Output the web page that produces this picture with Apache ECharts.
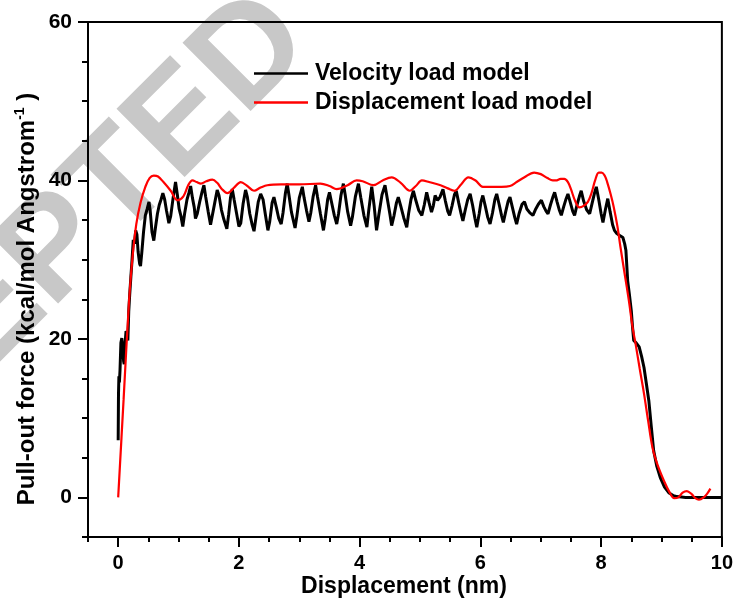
<!DOCTYPE html>
<html>
<head>
<meta charset="utf-8">
<script src="https://cdn.jsdelivr.net/npm/echarts@6/dist/echarts.min.js"></script>
<style>html,body{margin:0;padding:0;background:#fff}#c{width:736px;height:603px}</style>
</head>
<body>
<div id="c"></div>
<script>
// ---- data ----
const seriesNames = ['Velocity load model', 'Displacement load model'];
const xTickLabels = [0, 2, 4, 6, 8, 10];
const yTickLabels = [0, 20, 40, 60];
const xMinorTicks = [-0.5,0,0.5,1,1.5,2,2.5,3,3.5,4,4.5,5,5.5,6,6.5,7,7.5,8,8.5,9,9.5,10];
const yMinorTicks = [-5,0,5,10,15,20,25,30,35,40,45,50,55,60];

const velocityLoad = [
[0,7.2],[0.005,13],[0.012,15.3],[0.02,14.5],[0.03,16],[0.045,19.5],[0.06,20.1],[0.075,19],[0.09,17.2],[0.1,16.8],
[0.115,19.5],[0.13,21],[0.145,20.6],[0.16,19.8],[0.175,23.5],[0.19,25.5],[0.21,27.8],[0.23,30],[0.25,32.5],[0.27,32],
[0.29,33.7],[0.31,33.2],[0.33,31],[0.355,29.5],[0.37,29.2],[0.39,30.8],[0.42,33.5],[0.45,35.6],[0.48,36.4],[0.51,37.3],
[0.53,36.2],[0.56,33.5],[0.59,32.4],[0.62,34.2],[0.65,35.8],[0.68,36.9],[0.71,37.6],[0.74,38.4],[0.77,37.6],[0.8,36.2],
[0.84,34.6],[0.87,35.5],[0.91,37.8],[0.95,39.8],[0.98,38.2],[1.01,36.4],[1.04,35.5],[1.07,34.2],[1.1,35.8],[1.14,37.6],
[1.17,38.4],[1.2,39.3],[1.23,37.8],[1.26,36.6],[1.28,35.2],[1.31,35.8],[1.35,37.3],[1.39,38.6],[1.42,39.4],[1.45,37.9],
[1.49,36.1],[1.53,34.4],[1.56,34.6],[1.6,37.2],[1.64,38.8],[1.67,38.1],[1.71,36.3],[1.75,35.1],[1.8,33.9],[1.83,35.7],
[1.86,37.8],[1.89,38.9],[1.92,37.6],[1.96,35.9],[2.0,34.2],[2.03,34.6],[2.07,37.1],[2.11,38.8],[2.14,37.9],[2.18,35.8],
[2.22,34.4],[2.25,33.6],[2.28,35.2],[2.32,37.3],[2.36,38.3],[2.4,37.6],[2.44,35.6],[2.48,33.7],[2.51,34.8],[2.55,37.2],
[2.58,37.9],[2.62,36.6],[2.66,35.2],[2.7,34.5],[2.73,35.9],[2.77,38.4],[2.8,39.6],[2.83,38.1],[2.87,36.0],[2.93,34.0],
[2.96,35.5],[3.0,37.8],[3.05,39.2],[3.08,37.8],[3.12,36.2],[3.16,34.8],[3.19,35.9],[3.23,38.0],[3.27,39.4],[3.3,38.0],
[3.35,35.8],[3.4,33.7],[3.43,35.2],[3.47,37.6],[3.5,38.5],[3.53,37.4],[3.58,35.6],[3.62,34.5],[3.65,35.8],[3.69,38.1],
[3.73,39.6],[3.76,38.2],[3.8,36.1],[3.85,34.3],[3.88,35.4],[3.93,38.0],[3.98,39.6],[4.02,37.8],[4.07,35.6],[4.12,34.1],
[4.15,36.2],[4.2,39.2],[4.24,36.8],[4.28,33.7],[4.32,35.8],[4.37,38.2],[4.42,39.4],[4.46,37.6],[4.5,35.8],[4.53,34.3],
[4.57,35.6],[4.61,37.2],[4.64,37.9],[4.68,36.8],[4.73,35.3],[4.78,34.1],[4.81,35.8],[4.85,37.6],[4.89,38.7],[4.93,37.5],
[4.98,36.2],[5.03,35.6],[5.07,36.9],[5.11,38.5],[5.15,37.2],[5.19,36.0],[5.22,36.8],[5.25,38.1],[5.29,37.5],[5.33,37.9],
[5.38,38.9],[5.42,37.4],[5.46,36.1],[5.49,35.6],[5.53,36.8],[5.57,38.2],[5.6,38.7],[5.64,37.2],[5.68,35.8],[5.71,34.9],
[5.75,36.3],[5.79,37.6],[5.83,38.3],[5.87,36.9],[5.91,35.2],[5.94,34.1],[5.98,35.8],[6.01,37.3],[6.04,38.1],[6.08,36.8],
[6.12,35.4],[6.16,34.5],[6.2,35.9],[6.24,37.6],[6.27,38.3],[6.31,37.0],[6.35,35.6],[6.38,34.7],[6.42,36.1],[6.46,37.4],
[6.49,37.9],[6.53,36.6],[6.57,35.3],[6.6,34.5],[6.64,35.8],[6.69,37.0],[6.73,37.3],[6.77,36.4],[6.82,35.9],[6.87,35.6],
[6.91,36.3],[6.96,37.0],[7.01,37.5],[7.05,36.7],[7.09,36.1],[7.12,35.8],[7.16,36.9],[7.2,37.9],[7.23,38.5],[7.27,37.3],
[7.31,36.2],[7.34,35.6],[7.38,36.7],[7.42,37.7],[7.45,38.3],[7.49,37.2],[7.53,36.1],[7.56,35.6],[7.6,36.9],[7.64,38.0],
[7.67,38.7],[7.71,37.4],[7.76,36.3],[7.81,35.8],[7.85,37.1],[7.89,38.4],[7.92,39.2],[7.96,37.6],[8.0,35.8],[8.03,34.7],
[8.07,36.3],[8.11,37.7],[8.15,36.0],[8.19,34.4],[8.22,33.7],[8.26,33.3],[8.3,33.1],[8.36,32.8],[8.39,32.0],[8.41,31.2],
[8.44,27.3],[8.47,25.5],[8.5,23.5],[8.52,21.5],[8.54,19.8],[8.58,19.5],[8.63,19.0],[8.67,17.8],[8.71,16.4],[8.75,14.3],
[8.79,12.2],[8.83,9.0],[8.87,5.9],[8.92,4.0],[8.98,2.5],[9.05,1.3],[9.12,0.6],[9.2,0.2],[9.26,0.1],[9.4,0],
[9.6,0],[9.8,0],[10,0]
];

const displacementLoad = [
[0,0],[0.09,12.4],[0.18,24.8],[0.24,30.5],[0.3,34.5],[0.37,37.2],[0.45,39.2],[0.52,40.3],[0.59,40.6],[0.66,40.5],
[0.75,39.8],[0.87,38.7],[0.98,37.5],[1.08,38.0],[1.16,39.4],[1.23,40.0],[1.3,39.8],[1.37,39.6],[1.46,39.9],[1.56,40.1],
[1.64,39.7],[1.72,38.9],[1.81,38.4],[1.92,39.1],[2.03,39.8],[2.14,39.3],[2.25,38.7],[2.36,39.1],[2.47,39.4],[2.7,39.5],
[3.0,39.5],[3.35,39.6],[3.5,39.3],[3.62,38.9],[3.8,39.4],[3.95,40.0],[4.05,39.9],[4.23,39.4],[4.38,40.0],[4.53,40.4],
[4.68,39.7],[4.83,38.7],[4.93,39.3],[5.03,40.0],[5.15,39.8],[5.34,39.4],[5.46,39.0],[5.57,38.7],[5.68,39.5],[5.8,40.4],
[5.92,40.0],[6.04,39.2],[6.2,39.2],[6.35,39.2],[6.49,39.3],[6.6,39.8],[6.73,40.4],[6.89,41.0],[7.0,40.8],[7.11,40.3],
[7.2,40.0],[7.25,40.0],[7.33,40.2],[7.39,40.2],[7.45,39.8],[7.5,38.9],[7.57,37.4],[7.64,36.6],[7.71,36.8],[7.78,37.3],
[7.84,38.4],[7.9,40.0],[7.96,41.0],[8.01,41.0],[8.06,40.6],[8.1,39.8],[8.16,38.2],[8.21,36.6],[8.27,34.2],[8.32,31.6],
[8.39,28.2],[8.46,24.8],[8.52,21.5],[8.57,19.4],[8.64,16.2],[8.71,13.1],[8.78,9.6],[8.85,6.3],[8.93,4.2],[9.04,2.1],
[9.13,0.7],[9.21,-0.1],[9.28,0.0],[9.35,0.6],[9.42,0.8],[9.5,0.4],[9.56,-0.1],[9.62,-0.3],[9.7,0.0],[9.76,0.5],[9.81,1.1]
];

// ---- chart ----
const chart = echarts.init(document.getElementById('c'), null, {renderer: 'canvas'});
const FONT = '"Liberation Sans", Arial, sans-serif';
const axisLineStyle = {color: '#000', width: 2};
const lineIcon = 'path://M0,0H54V2.5H0Z';

chart.setOption({
  animation: false,
  backgroundColor: '#fff',
  grid: {left: 88, right: 13, top: 22, bottom: 66, show: true, borderColor: '#000', borderWidth: 2, backgroundColor: 'transparent'},
  legend: {
    orient: 'vertical', left: 254, top: 62, padding: 0, itemWidth: 54, itemHeight: 24, itemGap: 6,
    symbolKeepAspect: true,
    data: [{name: seriesNames[0], icon: lineIcon}, {name: seriesNames[1], icon: lineIcon}],
    textStyle: {fontFamily: FONT, fontWeight: 'bold', fontSize: 23, color: '#000', padding: [0, 0, 0, 2]}
  },
  xAxis: [
    {type: 'value', min: -0.5, max: 10, gridIndex: 0,
     axisLine: {show: true, onZero: false, lineStyle: axisLineStyle},
     axisTick: {show: true, customValues: xMinorTicks, length: 5, lineStyle: axisLineStyle},
     axisLabel: {customValues: xTickLabels, fontFamily: FONT, fontWeight: 'bold', fontSize: 20, color: '#000', margin: 16},
     splitLine: {show: false}},
    {type: 'value', min: -0.5, max: 10, gridIndex: 0, position: 'bottom',
     axisLine: {show: false, onZero: false},
     axisTick: {show: true, customValues: xTickLabels, length: 10, lineStyle: axisLineStyle},
     axisLabel: {show: false}, splitLine: {show: false}}
  ],
  yAxis: [
    {type: 'value', min: -5, max: 60, gridIndex: 0,
     axisLine: {show: true, onZero: false, lineStyle: axisLineStyle},
     axisTick: {show: true, customValues: yMinorTicks, length: 6, lineStyle: axisLineStyle},
     axisLabel: {customValues: yTickLabels, fontFamily: FONT, fontWeight: 'bold', fontSize: 21, color: '#000', margin: 16},
     splitLine: {show: false}},
    {type: 'value', min: -5, max: 60, gridIndex: 0, position: 'left',
     axisLine: {show: false, onZero: false},
     axisTick: {show: true, customValues: yTickLabels, length: 10, lineStyle: axisLineStyle},
     axisLabel: {show: false}, splitLine: {show: false}}
  ],
  series: [
    {name: seriesNames[0], type: 'line', data: velocityLoad, xAxisIndex: 0, yAxisIndex: 0,
     symbol: 'none', lineStyle: {color: '#000', width: 3}, itemStyle: {color: '#000'}, z: 3},
    {name: seriesNames[1], type: 'line', data: displacementLoad, xAxisIndex: 0, yAxisIndex: 0,
     symbol: 'none', smooth: 0.35, lineStyle: {color: '#ff0000', width: 2.2}, itemStyle: {color: '#ff0000'}, z: 4}
  ],
  graphic: [
    {type: 'text', z: -10, x: 16, y: 291, rotation: Math.PI / 4, silent: true,
     style: {text: 'ACCEPTED', fill: '#c8c8c8', font: 'bold 140px "Liberation Sans", Arial, sans-serif', textAlign: 'center', textVerticalAlign: 'middle'}},
    {type: 'text', x: 404, y: 587,
     style: {text: 'Displacement (nm)', fill: '#000', font: 'bold 23px ' + FONT, textAlign: 'center', textVerticalAlign: 'middle'}},
    {type: 'text', x: 27, y: 299, rotation: Math.PI / 2,
     style: {text: '{a|Pull-out force (kcal/mol Angstrom}{s|-1}{a| )}', fill: '#000', textAlign: 'center', textVerticalAlign: 'middle',
       rich: {a: {fontFamily: FONT, fontWeight: 'bold', fontSize: 24, fill: '#000', lineHeight: 28},
              s: {fontFamily: FONT, fontWeight: 'bold', fontSize: 14, fill: '#000', lineHeight: 28, verticalAlign: 'top', padding: [0, 0, 10, 0]}}}}
  ]
});
</script>
</body>
</html>
